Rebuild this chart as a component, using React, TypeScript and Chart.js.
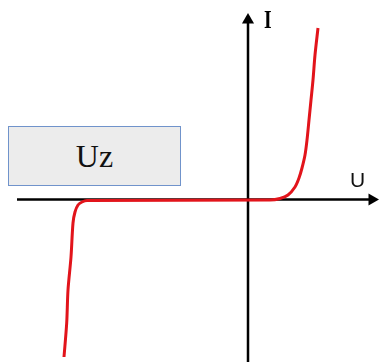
import React, { useEffect, useRef } from "react";
import { Chart, registerables } from "chart.js";

Chart.register(...registerables);

// Zener diode characteristic (U in arbitrary units, I in arbitrary units)
const forwardU = [2.2, 3.2, 4.0, 4.7, 5.1, 5.4, 5.7, 5.9, 6.1, 6.3, 6.5, 6.7, 7.0];
const forwardI = [-0.05, 0.1, 0.45, 1.25, 2.15, 3.15, 4.45, 5.95, 7.95, 9.95, 11.95, 14.45, 17.15];
const reverseU = [-16.1, -16.6, -17.0, -17.3, -17.5, -17.7, -18.0, -18.13, -18.4];
const reverseI = [-0.1, -0.25, -0.55, -1.25, -2.35, -5.75, -9.05, -12.35, -15.75];

const uAxisRange = [-23.1, 12.4];
const iAxisRange = [-16.5, 17.95];
const axisLabels = ["U", "I"];
const zenerLabel = "Uz";

const X_MIN = -24.8;
const X_MAX = 13.2;
const Y_MIN = -16.25;
const Y_MAX = 19.95;

export default function App() {
  const ref = useRef<HTMLCanvasElement | null>(null);

  useEffect(() => {
    if (!ref.current) return;
    const curve = [
      ...reverseU.slice().reverse().map((u, i) => ({ x: u, y: reverseI[reverseI.length - 1 - i] })),
      ...forwardU.map((u, i) => ({ x: u, y: forwardI[i] })),
    ];
    const chart = new Chart(ref.current, {
      type: "scatter",
      data: {
        datasets: [
          {
            data: curve,
            showLine: true,
            borderColor: "#e2141b",
            borderWidth: 3,
            pointRadius: 0,
            tension: 0.3,
            order: 0,
          },
          {
            data: [
              { x: uAxisRange[0], y: 0 },
              { x: uAxisRange[1], y: 0 },
            ],
            showLine: true,
            borderColor: "#000",
            borderWidth: 2.5,
            pointRadius: [0, 7],
            pointStyle: "triangle",
            rotation: 90,
            backgroundColor: "#000",
            pointBorderWidth: 0,
            order: 1,
          },
          {
            data: [
              { x: 0, y: iAxisRange[0] },
              { x: 0, y: iAxisRange[1] },
            ],
            showLine: true,
            borderColor: "#000",
            borderWidth: 2.5,
            pointRadius: [0, 7],
            pointStyle: "triangle",
            rotation: 0,
            backgroundColor: "#000",
            pointBorderWidth: 0,
            order: 1,
          },
        ],
      },
      options: {
        responsive: false,
        animation: false,
        layout: { padding: 0, autoPadding: false },
        plugins: { legend: { display: false }, tooltip: { enabled: false } },
        scales: {
          x: { type: "linear", min: X_MIN, max: X_MAX, display: false },
          y: { type: "linear", min: Y_MIN, max: Y_MAX, display: false },
        },
      },
    });
    return () => chart.destroy();
  }, []);

  return (
    <div style={{ position: "fixed", left: 0, top: 0, width: 380, height: 362, background: "#fff" }}>
      <canvas ref={ref} width={380} height={362} style={{ position: "absolute", left: 0, top: 0 }} />
      <div
        style={{
          position: "absolute",
          left: 8,
          top: 126,
          width: 173,
          height: 60,
          boxSizing: "border-box",
          border: "1px solid #7093cb",
          background: "#ececec",
        }}
      />
      <div
        style={{
          position: "absolute",
          left: 8,
          top: 140,
          width: 173,
          textAlign: "center",
          font: "32px 'Liberation Serif', serif",
          lineHeight: "32px",
          color: "#111",
        }}
      >
        {zenerLabel}
      </div>
      <div
        style={{
          position: "absolute",
          left: 350,
          top: 169,
          font: "21px 'Liberation Sans', sans-serif",
          lineHeight: "21px",
          color: "#111",
        }}
      >
        {axisLabels[0]}
      </div>
      <div
        style={{
          position: "absolute",
          left: 264,
          top: 7,
          font: "bold 26px 'Liberation Serif', serif",
          lineHeight: "26px",
          color: "#000",
          transform: "scaleX(0.75)",
          transformOrigin: "left top",
        }}
      >
        {axisLabels[1]}
      </div>
    </div>
  );
}
